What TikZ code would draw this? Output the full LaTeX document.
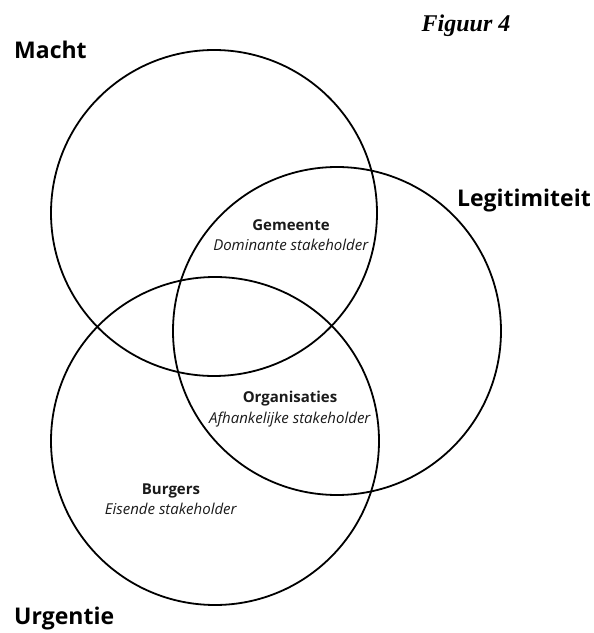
\documentclass[tikz,border=0pt]{standalone}
\usepackage{fontspec}
\setmainfont{Open Sans}
\newfontfamily\figfont{Liberation Serif}
\usepackage{tikz}
\usetikzlibrary{calc}
\usepackage{tkz-euclide}
\usepackage{xcolor}
\definecolor{LabelGray}{HTML}{1A1A1A}

\tikzset{
  venn/.style={line width=1.8pt,black},
  setlabel/.style={font=\fontsize{23}{27}\selectfont\bfseries,inner sep=0pt},
  rolelabel/.style={align=center,inner sep=0pt,text=LabelGray,
    font=\fontsize{15}{20.5}\selectfont}
}

\begin{document}
\begin{tikzpicture}[x=1pt,y=1pt]
    \useasboundingbox (0,0) rectangle (594,633);
    \tkzDefPoint(214,420){M}
    \tkzDefPoint(337,302){L}
    \tkzDefPoint(215,192){U}

    \draw[venn] (M) circle[radius=163];
    \draw[venn] (L) circle[radius=164];
    \draw[venn] (U) circle[radius=164];

    \node[setlabel,anchor=west] (macht) at (14,583) {Macht};
    \node[setlabel,anchor=east] (legit) at (591,432) {Legitimiteit};
    \node[setlabel,anchor=west] (urgentie) at (14,14) {Urgentie};
    \node[font=\figfont\fontsize{24}{28}\selectfont\bfseries\itshape,inner sep=0pt]
      (figuur) at (466,607) {Figuur 4};

    \node[rolelabel] (gemeente) at (291,398) {\textbf{Gemeente}\\\textit{Dominante stakeholder}};
    \node[rolelabel] (organisaties) at (290,224) {\textbf{Organisaties}\\\textit{Afhankelijke stakeholder}};
    \node[rolelabel] (burgers) at (171,134) {\textbf{Burgers}\\\textit{Eisende stakeholder}};
\end{tikzpicture}
\end{document}
